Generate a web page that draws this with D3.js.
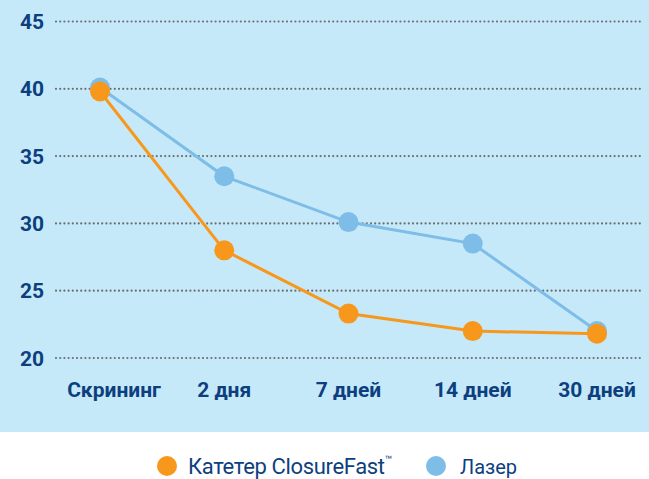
<!DOCTYPE html>
<html>
<head>
<meta charset="utf-8">
<script src="https://cdn.jsdelivr.net/npm/d3@7"></script>
<style>
  body { margin: 0; background: #fff; }
  svg text { font-family: "Liberation Sans Narrow", Roboto, "Open Sans", sans-serif; }
</style>
</head>
<body>
<div id="chart"></div>
<script>
// chart values
const categories = ["Скрининг", "2 дня", "7 дней", "14 дней", "30 дней"];
const closureFast = [39.8, 28.0, 23.3, 22.0, 21.8];
const laser = [40.1, 33.5, 30.1, 28.5, 22.0];
const yTicks = [20, 25, 30, 35, 40, 45];
const seriesNames = ["Катетер ClosureFast", "Лазер"];

const width = 649, height = 479;
const panelHeight = 432;
const textColor = "#0d3f7f";
const orange = "#f7981d";
const blue = "#7dbde8";

const svg = d3.select("#chart").append("svg")
  .attr("width", width).attr("height", height);

// light blue panel
svg.append("rect")
  .attr("width", width).attr("height", panelHeight)
  .attr("fill", "#c6e9f9");

const x = d3.scalePoint().domain(categories).range([100, 597]);
const y = d3.scaleLinear().domain([20, 45]).range([358, 21.5]);

// gridlines
svg.append("g").selectAll("line")
  .data(yTicks).join("line")
  .attr("x1", 56).attr("x2", 640)
  .attr("y1", d => y(d)).attr("y2", d => y(d))
  .attr("stroke", "#6d6e71").attr("stroke-width", 2.2)
  .attr("stroke-dasharray", "0 4.2").attr("stroke-linecap", "round");

// y axis labels
svg.append("g").selectAll("text")
  .data(yTicks).join("text")
  .attr("x", 44).attr("y", d => y(d))
  .attr("dy", "0.36em")
  .attr("text-anchor", "end")
  .attr("font-size", 21).attr("font-weight", "bold")
  .attr("fill", textColor)
  .text(d => d);

// x axis labels
svg.append("g").selectAll("text")
  .data(categories).join("text")
  .attr("x", (d, i) => i === 0 ? x(d) + 14 : x(d))
  .attr("y", 397)
  .attr("text-anchor", "middle")
  .attr("font-size", 21).attr("font-weight", "bold")
  .attr("fill", textColor)
  .text(d => d);

const line = d3.line().x((d, i) => x(categories[i])).y(d => y(d));

function drawSeries(values, color) {
  svg.append("path")
    .datum(values)
    .attr("d", line)
    .attr("fill", "none")
    .attr("stroke", color).attr("stroke-width", 3);
  svg.append("g").selectAll("circle")
    .data(values).join("circle")
    .attr("cx", (d, i) => x(categories[i]))
    .attr("cy", d => y(d))
    .attr("r", 10)
    .attr("fill", color);
}

drawSeries(laser, blue);
drawSeries(closureFast, orange);

// legend
const legend = svg.append("g");
legend.append("circle").attr("cx", 167).attr("cy", 466).attr("r", 10).attr("fill", orange);
const t1 = legend.append("text")
  .attr("x", 188).attr("y", 474)
  .attr("font-size", 22).attr("fill", textColor);
t1.append("tspan").attr("textLength", 197).text(seriesNames[0]);
t1.append("tspan").attr("font-size", 12).attr("dy", -10).text("™");

legend.append("circle").attr("cx", 436).attr("cy", 466).attr("r", 10).attr("fill", blue);
legend.append("text")
  .attr("x", 460).attr("y", 474)
  .attr("font-size", 20).attr("fill", textColor)
  .text(seriesNames[1]);
</script>
</body>
</html>
